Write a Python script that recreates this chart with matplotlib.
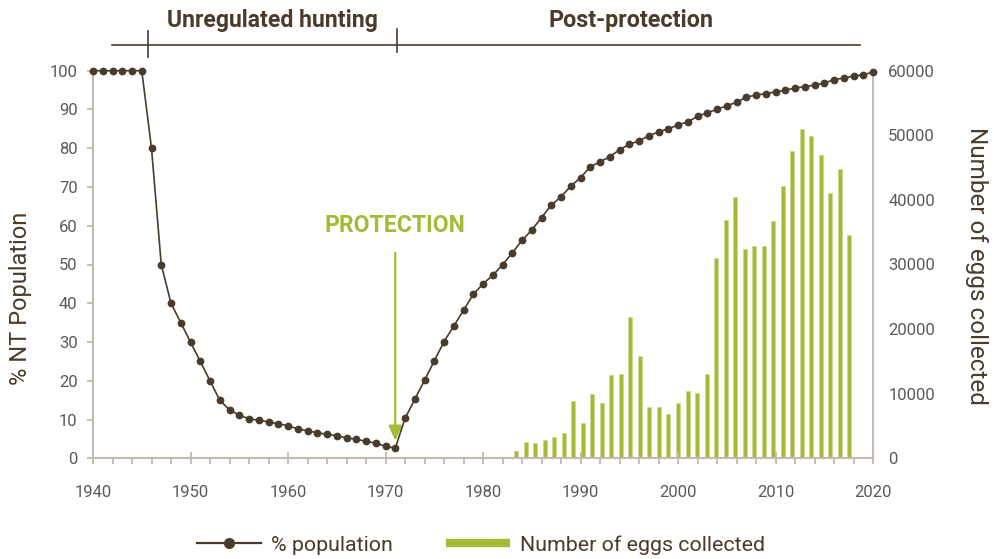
import matplotlib
matplotlib.use("Agg")
import matplotlib.pyplot as plt
from matplotlib.lines import Line2D
from matplotlib.ticker import MultipleLocator
import matplotlib.transforms as mtransforms

plt.rcParams['font.family'] = ['Roboto', 'DejaVu Sans']

# ---- data ----
pop_years = list(range(1940, 2021))
pop_pct = [100, 100, 100, 100, 100, 100,           # 1940-1945
           80, 50, 40, 35, 30, 25, 20, 15, 12.5,     # 1946-1954
           11.1, 10.2, 9.8, 9.4, 8.9, 8.4, 7.6, 7.1, 6.6, 6.2,   # 1955-1964
           5.8, 5.3, 4.9, 4.4, 3.9, 3.1, 2.6,         # 1965-1971
           10.3, 15.2, 20.1, 25.1, 30.1, 34.1, 38.2, 42.3, 45.0,  # 1972-1980
           47.2, 49.9, 53.0, 56.2, 58.9, 62.1, 65.3, 67.5, 70.2, 72.4,  # 1981-1990
           75.2, 76.5, 77.8, 79.6, 81.0, 81.9, 83.2, 84.2, 85.0, 86.0,  # 1991-2000
           86.8, 88.2, 89.2, 90.0, 91.0, 91.8, 93.2, 93.7, 94.1, 94.5,  # 2001-2010
           95.0, 95.5, 95.9, 96.3, 96.8, 97.7, 98.1, 98.6, 99.0, 99.6]  # 2011-2020

egg_years = list(range(1984, 2020))
eggs = [1200, 2500, 2300, 2800, 3350, 3900, 8800, 5500, 9900, 8500,
        12850, 13100, 21800, 15800, 8000, 8000, 6900, 8500, 10400, 10100,
        13100, 31000, 36900, 40500, 32400, 32900, 32900, 36700, 42100, 47500,
        51000, 49900, 47000, 41000, 44800, 34500]

# category axis used by the bar series (1940 .. 2021)
cat_first, cat_last = 1940, 2021

periods = ["Unregulated hunting", "Post-protection"]
period_bounds = [1941.9, 1945.6, 1971.2, 2018.7]
protection_year = 1971

BROWN = "#4a3b2c"
GREEN = "#a4bb38"
SPINE = "#c3bab1"
TICKC = "#5a5a5a"

fig = plt.figure(figsize=(9.95, 5.59), dpi=100)
L, B = 93/995, 1 - 458.3/559
W, H = 780/995, 387.6/559
ax = fig.add_axes([L, B, W, H])
ax2 = ax.twinx()
ax3 = ax2.twiny()

# bars on secondary axes
ax3.bar([y - cat_first for y in egg_years], eggs, width=0.42, color=GREEN,
        edgecolor="#c8d68a", linewidth=0.4)
ax3.set_xlim(-0.5, (cat_last - cat_first) + 0.5)
ax2.set_ylim(0, 60000)
ax2.set_yticks(range(0, 60001, 10000))
ax3.set_xticks([])
for s in ax3.spines.values():
    s.set_visible(False)
for s in ["top", "left", "bottom"]:
    ax2.spines[s].set_visible(False)
ax2.spines["right"].set_color(SPINE)
ax2.spines["right"].set_linewidth(1.5)
ax2.tick_params(axis="y", length=0, pad=11, labelsize=12, labelcolor=TICKC)

# line on primary axes, in front
ax.set_zorder(ax3.get_zorder() + 1)
ax.patch.set_visible(False)
ax.plot(pop_years, pop_pct, color=BROWN, lw=1.2, marker="o", ms=5.6,
        markeredgewidth=0, clip_on=False, zorder=5)
ax.set_xlim(1940, 2020)
ax.set_ylim(0, 100)
ax.set_yticks(range(0, 101, 10))
ax.xaxis.set_major_locator(MultipleLocator(10))
ax.xaxis.set_minor_locator(MultipleLocator(2))
for s in ["top", "right"]:
    ax.spines[s].set_visible(False)
for s in ["left", "bottom"]:
    ax.spines[s].set_color(SPINE)
    ax.spines[s].set_linewidth(1.5)
ax.tick_params(axis="x", which="major", direction="inout", length=9, width=1.3,
               color=SPINE, labelsize=12, labelcolor=TICKC, pad=15)
ax.tick_params(axis="x", which="minor", direction="out", length=4, width=1.3,
               color=SPINE)
ax.tick_params(axis="y", direction="out", length=4, width=1.3, color=SPINE,
               labelsize=12, labelcolor=TICKC, pad=7)

# axis titles
fig.text(21/995, 1 - 298/559, "% NT Population", rotation=90, ha="center",
         va="center", fontsize=17, color=BROWN)
fig.text(977/995, 1 - 266/559, "Number of eggs collected", rotation=-90,
         ha="center", va="center", fontsize=17.5, color=BROWN)

# period header
tr = mtransforms.blended_transform_factory(ax.transData, ax.transAxes)
ax.plot([period_bounds[0], period_bounds[-1]], [1.066, 1.066], color=BROWN,
        lw=1.2, transform=tr, clip_on=False)
ax.plot([period_bounds[1]] * 2, [1.035, 1.102], color=BROWN, lw=1.2,
        transform=tr, clip_on=False)
ax.plot([period_bounds[2]] * 2, [1.048, 1.108], color=BROWN, lw=1.2,
        transform=tr, clip_on=False)
fig.text(272/995, 1 - 20/559, periods[0], ha="center", va="center",
         fontsize=16.6, fontweight="bold", color=BROWN)
fig.text(631/995, 1 - 20/559, periods[1], ha="center", va="center",
         fontsize=16.8, fontweight="bold", color=BROWN)

# protection annotation
ax.annotate("", xy=(protection_year, 4.5), xytext=(protection_year, 53),
            arrowprops=dict(arrowstyle="-|>,head_length=0.9,head_width=0.4",
                            color=GREEN, lw=1.6, shrinkA=0, shrinkB=0))
ax.text(protection_year, 60, "PROTECTION", ha="center", va="center",
        fontsize=16.6, fontweight="bold", color=GREEN)

# legend
handles = [Line2D([], [], color=BROWN, lw=1.6, marker="o", ms=8, markeredgewidth=0),
           Line2D([], [], color=GREEN, lw=6, solid_capstyle="butt")]
fig.legend(handles, ["% population", "Number of eggs collected"],
           loc="center", bbox_to_anchor=(0.4834, 1 - 545/559), ncol=2,
           frameon=False, fontsize=15.4, handlelength=3.0, columnspacing=2.5,
           handletextpad=0.45, labelcolor=BROWN)

fig.savefig("out.png", dpi=100)
